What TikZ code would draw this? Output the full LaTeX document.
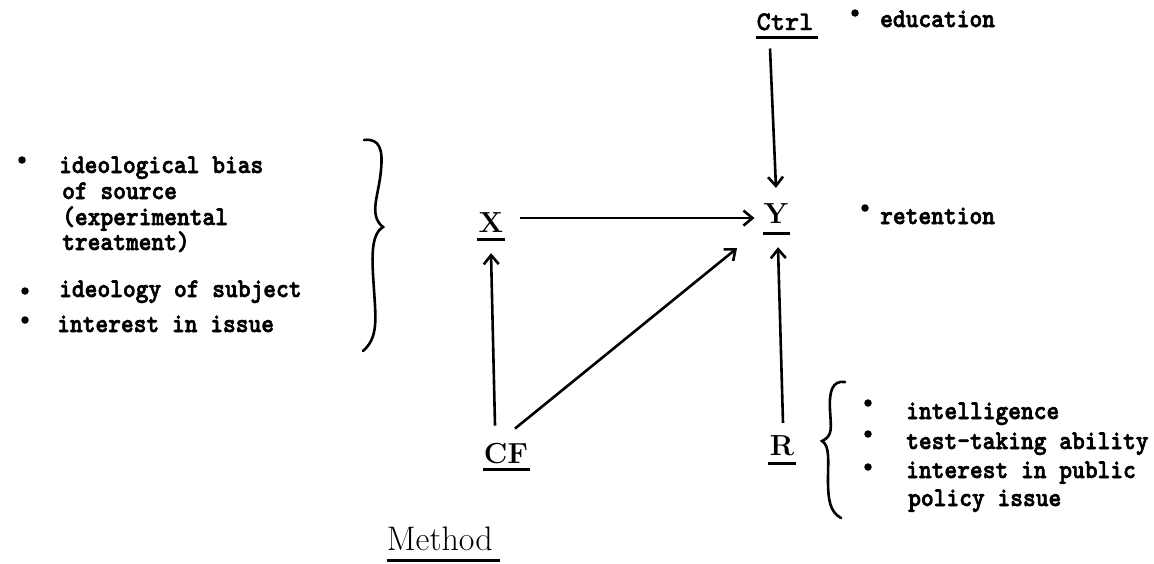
\documentclass[tikz,border=0pt]{standalone}
\usepackage{fontspec}
\newfontfamily\tw[FakeBold=2.2,FakeStretch=0.9]{lmmonolt10-bold.otf}
\newfontfamily\twl[FakeBold=1.5]{lmmonolt10-bold.otf}
\usetikzlibrary{arrows.meta}
\begin{document}
\begin{tikzpicture}[x=1pt,y=-1pt,
  lab/.style={font=\fontsize{29}{32}\selectfont\bfseries, inner sep=0pt, anchor=base},
  txt/.style={font=\fontsize{27}{29}\selectfont\tw, inner sep=0pt, anchor=base west},
  arr/.style={line width=2.6pt, -{Straight Barb[length=9pt,width=15pt]}},
  ul/.style={line width=3pt},
  brace/.style={line width=2.6pt, line cap=round},
  dot/.style={circle, fill, inner sep=0pt, minimum size=7.5pt}]
\useasboundingbox (0,0) rectangle (1154,563);

% main variables
\node[lab, font=\fontsize{27}{29}\selectfont\twl] (Ctrl) at (785,30) {Ctrl};
\node[lab] (X) at (491,232) {X};
\node[lab] (Y) at (776,223) {Y};
\node[lab] (CF) at (506,463) {CF};
\node[lab] (R) at (782,455) {R};

% underlines
\draw[ul] ([xshift=-29pt,yshift=-7pt]Ctrl.base) -- ([xshift=33pt,yshift=-7pt]Ctrl.base);
\draw[ul] ([xshift=-14pt,yshift=-7pt]X.base) -- ([xshift=14pt,yshift=-7pt]X.base);
\draw[ul] ([xshift=-13pt,yshift=-10pt]Y.base) -- ([xshift=14pt,yshift=-10pt]Y.base);
\draw[ul] ([xshift=-23pt,yshift=-6pt]CF.base) -- ([xshift=24pt,yshift=-6pt]CF.base);
\draw[ul] ([xshift=-14pt,yshift=-8pt]R.base) -- ([xshift=14pt,yshift=-8pt]R.base);

% arrows
\draw[arr] ([xshift=-15pt,yshift=-18pt]Ctrl.south) -- ([yshift=15pt]Y.north);
\draw[arr] ([xshift=16pt,yshift=4pt]X.east) -- ([xshift=-9pt,yshift=4pt]X.east -| Y.west);
\draw[arr] ([xshift=-11pt,yshift=17pt]CF.north) -- ([yshift=-21pt]X.south);
\draw[arr] ([xshift=9pt,yshift=14pt]CF.north) -- ([xshift=-39pt,yshift=-25pt]Y.south);
\draw[arr] ([xshift=1pt,yshift=12pt]R.north) -- ([xshift=2pt,yshift=-24pt]Y.south);

% left list
\node[dot] (lb1) at (22,160) {};
\node[txt] (l1) at (59,173) {ideological bias};
\node[txt] (l2) at (62,199) {of source};
\node[txt] (l3) at (62,225) {(experimental};
\node[txt] (l4) at (62,250) {treatment)};
\node[dot] (lb2) at (25,291) {};
\node[txt] (l5) at (59,297) {ideology of subject};
\node[dot] (lb3) at (25,320) {};
\node[txt] (l6) at (57,332) {interest in issue};

% left brace
\draw[brace] (364,140) .. controls (380,138) and (383,150) .. (381,170)
  .. controls (379,195) and (368,215) .. (383,227)
  .. controls (370,235) and (372,260) .. (374,290)
  .. controls (376,320) and (378,338) .. (363,351);

% top right
\node[dot] (eb) at (855,13) {};
\node[txt] (edu) at (880,27) {education};
\node[dot] (rb) at (865,208) {};
\node[txt] (ret) at (880,224) {retention};

% right brace
\draw[brace] (845,382) .. controls (832,380) and (829,392) .. (830,410)
  .. controls (831,428) and (833,436) .. (822,441)
  .. controls (830,446) and (828,460) .. (828,480)
  .. controls (828,500) and (830,512) .. (841,518);

% bottom right list
\node[dot] (rb1) at (868,403) {};
\node[txt] (r1) at (906,419) {intelligence};
\node[dot] (rb2) at (868,434) {};
\node[txt] (r2) at (906,449) {test-taking ability};
\node[dot] (rb3) at (868,467) {};
\node[txt] (r3) at (906,478) {interest in public};
\node[txt] (r4) at (908,506) {policy issue};

% title
\node[font=\fontsize{34}{36}\selectfont, inner sep=0pt, anchor=base east] (M) at (493,550) {Method};
\draw[ul] ([yshift=-10pt]M.base west) -- ([xshift=7pt,yshift=-10pt]M.base east);
\end{tikzpicture}
\end{document}
